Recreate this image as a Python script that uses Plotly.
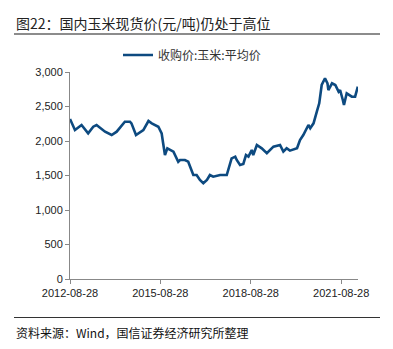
import plotly.graph_objects as go

dates = ["2012-08-28","2012-10-27","2013-01-15","2013-04-05","2013-06-06","2013-07-16","2013-10-27",
         "2014-01-15","2014-03-17","2014-06-24","2014-08-25","2014-09-12","2014-11-06","2015-02-03",
         "2015-04-06","2015-05-16","2015-08-04","2015-09-13","2015-10-01","2015-10-23","2015-11-21",
         "2016-02-03","2016-04-01","2016-04-23","2016-06-21","2016-07-31","2016-10-01","2016-11-10",
         "2016-12-20","2017-01-30","2017-03-15","2017-04-20","2017-05-30","2017-08-22","2017-11-10",
         "2017-12-20","2018-01-08","2018-02-21","2018-03-11","2018-04-20","2018-05-30","2018-07-01",
         "2018-07-31","2018-09-09","2018-09-27","2018-11-10","2019-01-08","2019-03-11","2019-05-30",
         "2019-08-18","2019-09-27","2019-11-06","2019-12-16","2020-03-11","2020-04-16","2020-05-26",
         "2020-07-27","2020-08-18","2020-09-27","2020-11-06","2020-12-05","2021-01-04","2021-02-13",
         "2021-03-15","2021-03-26","2021-05-09","2021-06-18","2021-07-28","2021-08-15","2021-09-17",
         "2021-10-01","2021-11-03","2022-01-04","2022-02-13","2022-03-07","2022-03-18"]
prices = [2320,2160,2232,2111,2207,2232,2135,
          2087,2135,2280,2280,2256,2087,2159,
          2290,2256,2207,2111,1967,1797,1894,
          1846,1700,1725,1725,1700,1507,1507,
          1435,1387,1435,1507,1483,1507,1507,
          1652,1749,1773,1725,1652,1667,1797,
          1773,1870,1797,1942,1894,1822,1918,
          1942,1846,1894,1860,1894,2014,2087,
          2232,2184,2256,2425,2546,2812,2909,
          2836,2739,2836,2812,2715,2739,2594,
          2522,2691,2642,2642,2763,2787]

tick_vals = ["2012-08-28", "2015-08-28", "2018-08-28", "2021-08-28"]
tick_text = ["2012-08-28", "2015-08-28", "2018-08-28", "2021-08-28"]
series_name = "收购价:玉米:平均价"
title_text = "图22：国内玉米现货价(元/吨)仍处于高位"
source_text = "资料来源：Wind，国信证券经济研究所整理"

W, H = 393, 349
L, R, T, B = 70, 35, 72, 70
pw, ph = W - L - R, H - T - B

def px_x(p):
    return (p - L) / pw

def px_y(p):
    return (H - B - p) / ph

fig = go.Figure()
fig.add_trace(go.Scatter(x=dates, y=prices, mode="lines", name=series_name,
                         line=dict(color="#0d4a80", width=2.6), showlegend=True))

fig.update_layout(
    width=W, height=H,
    margin=dict(l=L, r=R, t=T, b=B),
    paper_bgcolor="white", plot_bgcolor="white",
    font=dict(family="Liberation Sans, Arial, Noto Sans CJK SC", size=11, color="#333"),
    xaxis=dict(range=["2012-08-28", "2022-03-20"], tickvals=tick_vals, ticktext=tick_text,
               showgrid=False, zeroline=False, showline=True, linecolor="#888", linewidth=1,
               ticks="outside", ticklen=4, tickcolor="#888",
               tickfont=dict(size=11, color="#222")),
    yaxis=dict(range=[0, 3000], dtick=500, tickformat=",", showgrid=False, zeroline=False,
               showline=True, linecolor="#888", linewidth=1,
               ticks="outside", ticklen=4, tickcolor="#888",
               tickfont=dict(size=11, color="#222")),
    legend=dict(orientation="h", x=px_x(118), xanchor="left", y=px_y(55), yanchor="middle",
                bgcolor="rgba(0,0,0,0)",
                font=dict(family="Noto Sans CJK SC", size=12, color="#333")),
    showlegend=True,
)

fig.add_annotation(text=title_text, xref="paper", yref="paper", x=px_x(14), y=px_y(23),
                   xanchor="left", yanchor="middle", showarrow=False,
                   font=dict(family="Noto Sans CJK SC", size=14, color="#222"))
fig.add_shape(type="line", xref="paper", yref="paper", x0=px_x(14), x1=px_x(380),
              y0=px_y(34), y1=px_y(34), line=dict(color="#8c8c8c", width=2))
fig.add_shape(type="line", xref="paper", yref="paper", x0=px_x(14), x1=px_x(380),
              y0=px_y(317.5), y1=px_y(317.5), line=dict(color="#333", width=1))
fig.add_annotation(text=source_text, xref="paper", yref="paper", x=px_x(14), y=px_y(332),
                   xanchor="left", yanchor="middle", showarrow=False,
                   font=dict(family="Noto Sans CJK SC", size=12, color="#111"))

fig.write_html("out.html")
